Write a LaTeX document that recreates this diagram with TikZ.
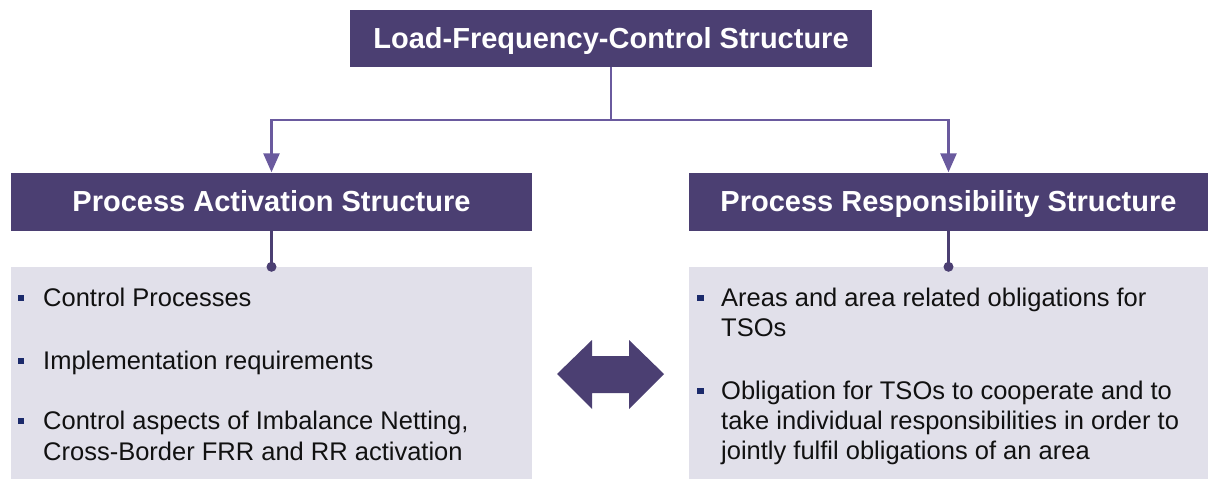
\documentclass[tikz,border=0pt]{standalone}
\usepackage{fontspec}
\setmainfont{Liberation Sans}
\usetikzlibrary{arrows.meta}
\definecolor{boxpurple}{HTML}{4B3F72}
\definecolor{linepurple}{HTML}{6A5A9E}
\definecolor{bodygray}{HTML}{E1E0EA}
\definecolor{bulletblue}{HTML}{1B2A6B}
\definecolor{bodytext}{HTML}{111111}
\tikzset{
  headbox/.style={fill=boxpurple, draw=none, inner sep=0pt, text=white,
    font=\fontsize{29}{34}\selectfont\bfseries, text height=20.8pt, text depth=0pt},
  bodybox/.style={fill=bodygray, draw=none, inner sep=0pt},
  conn/.style={draw=linepurple, line width=2.6pt, -{Triangle[length=19pt,width=16pt]}},
  stem/.style={draw=boxpurple, line width=2.4pt},
  dotnode/.style={circle, fill=boxpurple, inner sep=0pt, minimum size=10pt},
  bulletsq/.style={fill=bulletblue, inner sep=0pt, minimum size=6.5pt},
  bodyline/.style={anchor=base west, inner sep=0pt, text=bodytext,
    font=\fontsize{25.5}{30}\selectfont},
  bigarrow/.style={fill=boxpurple, draw=none}
}
\begin{document}
\begin{tikzpicture}[x=1pt,y=-1pt]
\useasboundingbox (0,0) rectangle (1208,479);
% header boxes
\node[headbox, minimum width=522pt, minimum height=57pt] (top) at (611,38.5) {Load-Frequency-Control Structure};
\node[headbox, minimum width=521pt, minimum height=58pt] (lsub) at (271.5,201.5) {Process Activation Structure};
\node[headbox, minimum width=519pt, minimum height=58pt] (rsub) at (948.5,201.5) {Process Responsibility Structure};
% body boxes
\node[bodybox, minimum width=521pt, minimum height=212pt] (lbody) at (271.5,373) {};
\node[bodybox, minimum width=519pt, minimum height=212pt] (rbody) at (948.5,373) {};
% connectors
\coordinate (junction) at (611,120);
\draw[conn] (top.south) -- (junction) -| (lsub.north);
\draw[conn] (junction) -| (rsub.north);
\node[dotnode] (ldot) at (lbody.north) {};
\node[dotnode] (rdot) at (rbody.north) {};
\draw[stem] (lsub.south) -- (ldot.center);
\draw[stem] (rsub.south) -- (rdot.center);
% double arrow
\filldraw[bigarrow] (557,374) -- (592,340) -- (592,356) -- (629,356) -- (629,340) -- (664,374) -- (629,409) -- (629,393) -- (592,393) -- (592,409) -- cycle;
% left bullets
\node[bulletsq] (lb1) at (21,298) {};
\node[bodyline] (lt1) at (43,306) {Control Processes};
\node[bulletsq] (lb2) at (21,361) {};
\node[bodyline] (lt2) at (43,369) {Implementation requirements};
\node[bulletsq] (lb3) at (21,421) {};
\node[bodyline] (lt3a) at (43,429) {Control aspects of Imbalance Netting,};
\node[bodyline] (lt3b) at (43,460) {Cross-Border FRR and RR activation};
% right bullets
\node[bulletsq] (rb1) at (700.5,298) {};
\node[bodyline] (rt1a) at (721,306) {Areas and area related obligations for};
\node[bodyline] (rt1b) at (721,336) {TSOs};
\node[bulletsq] (rb2) at (700.5,391) {};
\node[bodyline] (rt2a) at (721,399) {Obligation for TSOs to cooperate and to};
\node[bodyline] (rt2b) at (721,429) {take individual responsibilities in order to};
\node[bodyline] (rt2c) at (721,459) {jointly fulfil obligations of an area};
\end{tikzpicture}
\end{document}
